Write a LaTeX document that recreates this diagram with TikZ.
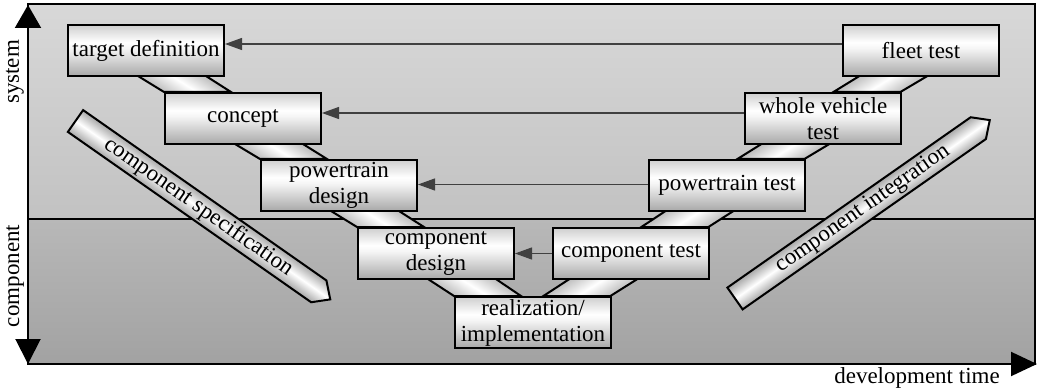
\documentclass[tikz,border=0pt]{standalone}
\usepackage{fontspec}
\setmainfont{Liberation Serif}
\usetikzlibrary{arrows.meta,calc}
\definecolor{boxbot}{HTML}{A8A8A8}
\definecolor{boxtop}{HTML}{CFCFCF}
\definecolor{bgA}{HTML}{D8D8D8}
\definecolor{bgB}{HTML}{C2C2C2}
\definecolor{bgC}{HTML}{B8B8B8}
\definecolor{bgD}{HTML}{A2A2A2}
\definecolor{bandg}{HTML}{ABABAB}
\pgfdeclareverticalshading{boxshade}{100bp}{color(0bp)=(boxbot); color(25bp)=(boxbot); color(52bp)=(white!96!black); color(58bp)=(white); color(75bp)=(boxtop); color(100bp)=(boxtop)}
\tikzset{
  boxgeo/.style={minimum width=156pt, minimum height=51pt, inner sep=0pt, align=center, anchor=north west},
  vbox/.style={boxgeo, draw, line width=2pt, shading=boxshade},
  hline/.style={line width=1.2pt, draw=black!75, -{Triangle[length=17pt,width=12pt]}},
  bandL/.style={draw, line width=2pt, top color=bandg, bottom color=bandg, middle color=white, shading angle=-32},
  bandR/.style={draw, line width=2pt, top color=bandg, bottom color=bandg, middle color=white, shading angle=32},
  bigarrow/.style={draw, line width=2pt, top color=boxbot, bottom color=boxbot, middle color=white, line join=miter},
  axis/.style={line width=2pt}
}
\begin{document}
\begin{tikzpicture}[x=1pt,y=-1pt,font=\fontsize{23}{26}\selectfont]
\useasboundingbox (0,0) rectangle (1038,390);
% background
\shade[top color=bgA, bottom color=bgB] (28,4) rectangle (1035,219);
\shade[top color=bgC, bottom color=bgD] (28,219) rectangle (1035,364);
\draw[line width=2pt] (28,4) rectangle (1035,364);
\draw[line width=1.6pt] (28,219) -- (1035,219);
% axes
\coordinate (O) at (28,364);
\coordinate (Ytop) at (28,5);
\coordinate (Xend) at (1037,364);
\draw[axis, {Triangle[length=25pt,width=25pt]}-{Triangle[length=23pt,width=26pt]}] (O) -- (Ytop);
\draw[axis, -{Triangle[length=26pt,width=24pt]}] (O) -- (Xend);
\node[rotate=90] (sys) at (15,72) {system};
\node[rotate=90] (comp) at (15,276) {component};
\node (dev) at (917,378) {development time};

% box positions
\coordinate (pTD) at (67,24);
\coordinate (pCO) at (164,92);
\coordinate (pPD) at (260,159);
\coordinate (pCD) at (357,227);
\coordinate (pRI) at (454,296);
\coordinate (pCT) at (552,227);
\coordinate (pPT) at (648,159);
\coordinate (pWV) at (744,92);
\coordinate (pFT) at (842,24);

% invisible anchors for bands (same geometry as boxes)
\path node[boxgeo] (TD0) at (pTD) {}
      node[boxgeo] (CO0) at (pCO) {}
      node[boxgeo] (PD0) at (pPD) {}
      node[boxgeo] (CD0) at (pCD) {}
      node[boxgeo] (RI0) at (pRI) {}
      node[boxgeo] (CT0) at (pCT) {}
      node[boxgeo] (PT0) at (pPT) {}
      node[boxgeo] (WV0) at (pWV) {}
      node[boxgeo] (FT0) at (pFT) {};

% bands (left)
\shadedraw[bandL] ($(TD0.south west)+(70,0)$) -- ($(TD0.south west)+(138,0)$) -- ($(CO0.north west)+(67,0)$) -- (CO0.north west) -- cycle;
\shadedraw[bandL] ($(CO0.south west)+(70,0)$) -- ($(CO0.south west)+(138,0)$) -- ($(PD0.north west)+(67,0)$) -- (PD0.north west) -- cycle;
\shadedraw[bandL] ($(PD0.south west)+(70,0)$) -- ($(PD0.south west)+(138,0)$) -- ($(CD0.north west)+(67,0)$) -- (CD0.north west) -- cycle;
\shadedraw[bandL] ($(CD0.south west)+(70,0)$) -- ($(CD0.south west)+(138,0)$) -- ($(RI0.north west)+(67,0)$) -- (RI0.north west) -- cycle;
% bands (right)
\shadedraw[bandR] ($(CT0.south east)+(-70,0)$) -- ($(CT0.south east)+(-138,0)$) -- ($(RI0.north east)+(-67,0)$) -- (RI0.north east) -- cycle;
\shadedraw[bandR] ($(PT0.south east)+(-70,0)$) -- ($(PT0.south east)+(-138,0)$) -- ($(CT0.north east)+(-67,0)$) -- (CT0.north east) -- cycle;
\shadedraw[bandR] ($(WV0.south east)+(-70,0)$) -- ($(WV0.south east)+(-138,0)$) -- ($(PT0.north east)+(-67,0)$) -- (PT0.north east) -- cycle;
\shadedraw[bandR] ($(FT0.south east)+(-70,0)$) -- ($(FT0.south east)+(-138,0)$) -- ($(WV0.north east)+(-67,0)$) -- (WV0.north east) -- cycle;

% boxes
\node[vbox] (TD) at (pTD) {target definition};
\node[vbox] (CO) at (pCO) {concept};
\node[vbox] (PD) at (pPD) {powertrain\\design};
\node[vbox] (CD) at (pCD) {component\\design};
\node[vbox] (RI) at (pRI) {realization/\\implementation};
\node[vbox] (CT) at (pCT) {component test};
\node[vbox] (PT) at (pPT) {powertrain test};
\node[vbox] (WV) at (pWV) {whole vehicle\\test};
\node[vbox] (FT) at (pFT) {fleet test};

% feedback arrows
\draw[hline] ([yshift=6.5pt]FT.west) -- ([yshift=6.5pt]TD.east);
\draw[hline] ([yshift=5.5pt]WV.west) -- ([yshift=5.5pt]CO.east);
\draw[hline] ([yshift=1pt]PT.west) -- ([yshift=1pt]PD.east);
\draw[hline] (CT.west) -- (CD.east);

% diagonal arrows
\begin{scope}[transform canvas={shift={(75.5,121)}, rotate=-35}]
  \shadedraw[bigarrow] (0,-13.3) -- (297,-13.3) -- (311,0) -- (297,13.3) -- (0,13.3) -- cycle;
  \node (spec) at (150,0) {component specification};
\end{scope}
\begin{scope}[transform canvas={shift={(735,298.5)}, rotate=35}]
  \shadedraw[bigarrow] (0,-13.3) -- (297,-13.3) -- (311,0) -- (297,13.3) -- (0,13.3) -- cycle;
  \node (integ) at (156,0) {component integration};
\end{scope}
\end{tikzpicture}
\end{document}
